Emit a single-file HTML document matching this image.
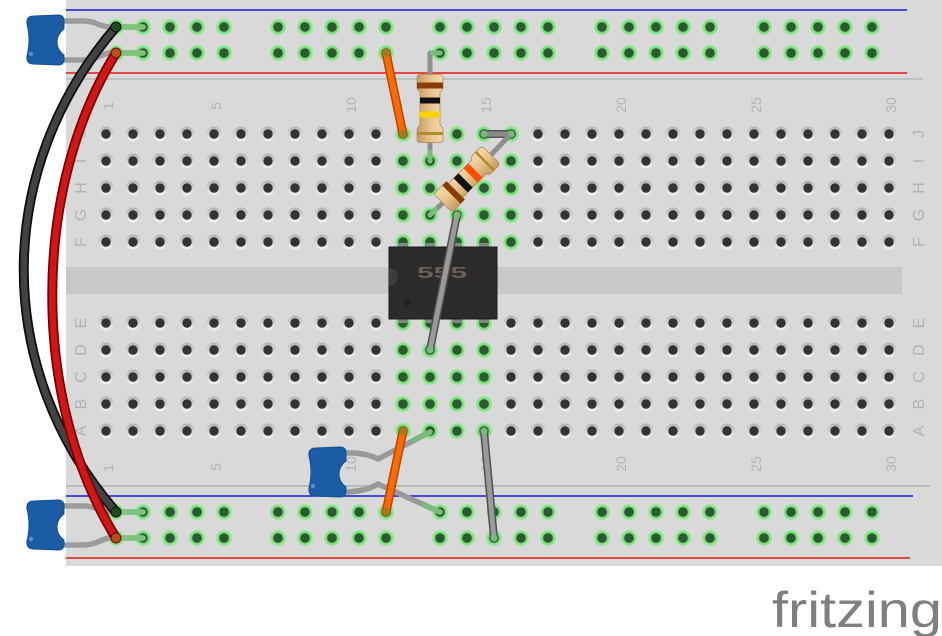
<!DOCTYPE html>
<html><head><meta charset="utf-8">
<style>
html,body{margin:0;padding:0;background:#fff;width:942px;height:636px;overflow:hidden;}
svg{display:block;}
</style></head>
<body>
<svg width="942" height="636" viewBox="0 0 942 636" xmlns="http://www.w3.org/2000/svg">
<defs>
  <linearGradient id="hg" x1="0" y1="0" x2="0" y2="1">
    <stop offset="0" stop-color="#b2b2b2"/>
    <stop offset="0.5" stop-color="#d2d2d2"/>
    <stop offset="1" stop-color="#f4f4f4"/>
  </linearGradient>
  <radialGradient id="gg">
    <stop offset="0.55" stop-color="#6fd66f"/>
    <stop offset="0.8" stop-color="#8fe08f"/>
    <stop offset="1" stop-color="#c2eac2"/>
  </radialGradient>
  <linearGradient id="rg" x1="0" y1="0" x2="0" y2="1">
    <stop offset="0" stop-color="#f2dbb0"/>
    <stop offset="0.45" stop-color="#e8c690"/>
    <stop offset="1" stop-color="#c69a62"/>
  </linearGradient>
  <pattern id="hp" x="92.5" y="120.5" width="27" height="27" patternUnits="userSpaceOnUse">
    <circle cx="13.5" cy="13.5" r="7.5" fill="url(#hg)"/>
    <circle cx="13.5" cy="13.5" r="4.7" fill="#333"/>
  </pattern>
  <pattern id="gp" x="92.5" y="120.5" width="27" height="27" patternUnits="userSpaceOnUse">
    <circle cx="13.5" cy="13.5" r="8.5" fill="url(#gg)"/>
    <circle cx="13.5" cy="13.5" r="4.8" fill="#2c5a30"/>
  </pattern>
  <pattern id="rt" x="102.5" y="14" width="27" height="26" patternUnits="userSpaceOnUse">
    <circle cx="13.5" cy="13" r="8.5" fill="url(#gg)"/>
    <circle cx="13.5" cy="13" r="4.8" fill="#2c5a30"/>
  </pattern>
  <pattern id="rb" x="102.5" y="499" width="27" height="26" patternUnits="userSpaceOnUse">
    <circle cx="13.5" cy="13" r="8.5" fill="url(#gg)"/>
    <circle cx="13.5" cy="13" r="4.8" fill="#2c5a30"/>
  </pattern>
  <g id="cap">
    <path d="M27,24 Q26,16 34,16 L58,15 Q64,15 64,21 L64,29 A15.6,15.6 0 0 0 64,55 L64,59 Q64,65 58,65 L34,64 Q26,64 27,56 Q31,40 27,24 Z" fill="#1b5ca6" stroke="#154f8e" stroke-width="1"/>
    <circle cx="31" cy="54" r="2.2" fill="#5a8fd0"/>
  </g>
  <g id="res">
    <path d="M-34,-10 Q-34,-13 -30,-13 L-22,-13 Q-18,-13 -17,-10 L17,-10 Q18,-13 22,-13 L30,-13 Q34,-13 34,-10 L34,10 Q34,13 30,13 L22,13 Q18,13 17,10 L-17,10 Q-18,13 -22,13 L-30,13 Q-34,13 -34,10 Z" fill="url(#rg)" stroke="#b48a55" stroke-width="0.8"/>
  </g>
</defs>

<!-- breadboard -->
<rect x="66" y="0" width="876" height="566" fill="#d9d9d9"/>
<rect x="66" y="267" width="836" height="27" fill="#c9c9c9"/>

<!-- rail lines -->
<line x1="66" y1="10" x2="907" y2="10" stroke="#1a1ad8" stroke-width="1.6"/>
<line x1="66" y1="73" x2="907" y2="73" stroke="#e61b1b" stroke-width="1.6"/>
<line x1="66" y1="79" x2="923" y2="79" stroke="#aab6ba" stroke-width="1.2"/>
<line x1="66" y1="486" x2="930" y2="486" stroke="#b0b0b0" stroke-width="1.5"/>
<line x1="66" y1="496" x2="913" y2="496" stroke="#1a1ad8" stroke-width="1.6"/>
<line x1="66" y1="558" x2="910" y2="558" stroke="#e61b1b" stroke-width="1.6"/>

<!-- labels -->
<g font-family="Liberation Sans, sans-serif" font-size="14" fill="#b3b3b3" text-anchor="middle">
  <text transform="translate(113,106) rotate(-90)">1</text>
  <text transform="translate(221,106) rotate(-90)">5</text>
  <text transform="translate(356,105) rotate(-90)">10</text>
  <text transform="translate(491,105) rotate(-90)">15</text>
  <text transform="translate(626,105) rotate(-90)">20</text>
  <text transform="translate(761,105) rotate(-90)">25</text>
  <text transform="translate(896,105) rotate(-90)">30</text>

  <text transform="translate(113,468) rotate(-90)">1</text>
  <text transform="translate(221,467) rotate(-90)">5</text>
  <text transform="translate(356,464) rotate(-90)">10</text>
  <text transform="translate(491,464) rotate(-90)">15</text>
  <text transform="translate(626,464) rotate(-90)">20</text>
  <text transform="translate(761,464) rotate(-90)">25</text>
  <text transform="translate(896,464) rotate(-90)">30</text>
</g>
<g font-family="Liberation Sans, sans-serif" font-size="16" fill="#b3b3b3" text-anchor="middle">
  <text transform="translate(86,134) rotate(-90)">J</text>
  <text transform="translate(86,161) rotate(-90)">I</text>
  <text transform="translate(86,188) rotate(-90)">H</text>
  <text transform="translate(86,215) rotate(-90)">G</text>
  <text transform="translate(86,242) rotate(-90)">F</text>
  <text transform="translate(86,323) rotate(-90)">E</text>
  <text transform="translate(86,350) rotate(-90)">D</text>
  <text transform="translate(86,377) rotate(-90)">C</text>
  <text transform="translate(86,404) rotate(-90)">B</text>
  <text transform="translate(86,431) rotate(-90)">A</text>

  <text transform="translate(924,134) rotate(-90)">J</text>
  <text transform="translate(924,161) rotate(-90)">I</text>
  <text transform="translate(924,188) rotate(-90)">H</text>
  <text transform="translate(924,215) rotate(-90)">G</text>
  <text transform="translate(924,242) rotate(-90)">F</text>
  <text transform="translate(924,323) rotate(-90)">E</text>
  <text transform="translate(924,350) rotate(-90)">D</text>
  <text transform="translate(924,377) rotate(-90)">C</text>
  <text transform="translate(924,404) rotate(-90)">B</text>
  <text transform="translate(924,431) rotate(-90)">A</text>
</g>

<!-- main holes -->
<rect x="92.5" y="120.5" width="810" height="135" fill="url(#hp)"/>
<rect x="92.5" y="309.5" width="810" height="135" fill="url(#hp)"/>
<!-- green connected holes -->
<rect x="389.5" y="120.5" width="135" height="135" fill="url(#gp)"/>
<rect x="389.5" y="309.5" width="108" height="135" fill="url(#gp)"/>

<!-- rail holes -->
<rect x="102.5" y="14" width="135" height="52" fill="url(#rt)"/>
<rect x="264.5" y="14" width="135" height="52" fill="url(#rt)"/>
<rect x="426.5" y="14" width="135" height="52" fill="url(#rt)"/>
<rect x="588.5" y="14" width="135" height="52" fill="url(#rt)"/>
<rect x="750.5" y="14" width="135" height="52" fill="url(#rt)"/>
<rect x="102.5" y="499" width="135" height="52" fill="url(#rb)"/>
<rect x="264.5" y="499" width="135" height="52" fill="url(#rb)"/>
<rect x="426.5" y="499" width="135" height="52" fill="url(#rb)"/>
<rect x="588.5" y="499" width="135" height="52" fill="url(#rb)"/>
<rect x="750.5" y="499" width="135" height="52" fill="url(#rb)"/>

<!-- 555 chip -->
<g fill="#7d8a7d">
  <rect x="398" y="243" width="10" height="5"/>
  <rect x="425" y="243" width="10" height="5"/>
  <rect x="452" y="243" width="10" height="5"/>
  <rect x="479" y="243" width="10" height="5"/>
  <rect x="398" y="318" width="10" height="5"/>
  <rect x="425" y="318" width="10" height="5"/>
  <rect x="452" y="318" width="10" height="5"/>
  <rect x="479" y="318" width="10" height="5"/>
</g>
<rect x="389" y="247" width="108" height="72" fill="#2b2b2b" stroke="#1c1c1c" stroke-width="1"/>
<path d="M389,268 A9,9 0 0 1 389,286 Z" fill="#3c3c3c"/>
<circle cx="407" cy="302" r="4" fill="#222"/>
<text x="417" y="278" font-family="Liberation Sans, sans-serif" font-weight="bold" font-size="16" fill="#6e6055" textLength="50" lengthAdjust="spacingAndGlyphs">555</text>

<!-- orange top wire -->
<line x1="386" y1="53" x2="403" y2="134" stroke="#b44600" stroke-width="9" stroke-linecap="round"/>
<line x1="386" y1="53" x2="403" y2="134" stroke="#ff6a00" stroke-width="6" stroke-linecap="round"/>
<circle cx="386" cy="53" r="4" fill="#a8781c"/>
<circle cx="403" cy="134" r="4" fill="#a8781c"/>

<!-- R1 leads and body -->
<path d="M440,53 L430,53 L430,80" fill="none" stroke="#8e8e8e" stroke-width="5" stroke-linecap="round" stroke-linejoin="round"/>
<path d="M440,53 L432,53" fill="none" stroke="#7cba7c" stroke-width="5" stroke-linecap="round"/>
<path d="M430,138 L430,161" fill="none" stroke="#8e8e8e" stroke-width="5" stroke-linecap="round"/>
<path d="M430,152 L430,161" fill="none" stroke="#7cba7c" stroke-width="5" stroke-linecap="round"/>
<g transform="translate(430,108.5) rotate(90)">
  <use href="#res"/>
  <rect x="-26" y="-13" width="6" height="26" fill="#8a3b0a"/>
  <rect x="-11" y="-10" width="6" height="20" fill="#111"/>
  <rect x="3" y="-10" width="6" height="20" fill="#ffd200"/>
  <rect x="23.5" y="-13" width="3" height="26" fill="#b08d2a"/>
</g>

<!-- short gray wire J row -->
<line x1="484" y1="134" x2="511" y2="134" stroke="#555" stroke-width="8" stroke-linecap="round"/>
<line x1="484" y1="134" x2="511" y2="134" stroke="#8a8a8a" stroke-width="5" stroke-linecap="round"/>
<circle cx="484" cy="134" r="3.5" fill="#7cba7c"/>
<circle cx="511" cy="134" r="3.5" fill="#7cba7c"/>

<!-- R2 leads and body -->
<path d="M430,215 L445,201" fill="none" stroke="#8e8e8e" stroke-width="5" stroke-linecap="round"/>
<path d="M430,215 L436,209" fill="none" stroke="#7cba7c" stroke-width="5" stroke-linecap="round"/>
<path d="M489,157 L508,137" fill="none" stroke="#8e8e8e" stroke-width="5" stroke-linecap="round"/>
<g transform="translate(467,179) rotate(-45)">
  <use href="#res"/>
  <rect x="-22" y="-13" width="6" height="26" fill="#8a3b0a"/>
  <rect x="-9" y="-10" width="7" height="20" fill="#111"/>
  <rect x="5" y="-10" width="7" height="20" fill="#ff4e00"/>
  <rect x="24" y="-13" width="2.5" height="26" fill="#b08d2a"/>
</g>

<!-- long gray wire over chip -->
<line x1="457" y1="215" x2="430" y2="350" stroke="#505050" stroke-width="8" stroke-linecap="round"/>
<line x1="457" y1="215" x2="430" y2="350" stroke="#9a9a9a" stroke-width="5" stroke-linecap="round"/>
<circle cx="457" cy="215" r="3.5" fill="#7cba7c"/>
<circle cx="430" cy="350" r="3.5" fill="#7cba7c"/>

<!-- bottom gray wire -->
<line x1="484" y1="431" x2="494" y2="538" stroke="#505050" stroke-width="8" stroke-linecap="round"/>
<line x1="484" y1="431" x2="494" y2="538" stroke="#9a9a9a" stroke-width="5" stroke-linecap="round"/>
<circle cx="484" cy="431" r="3.5" fill="#7cba7c"/>
<circle cx="494" cy="538" r="3.5" fill="#7cba7c"/>

<!-- middle capacitor leads -->
<path d="M342,453 Q365,452 378,459 L430,432" fill="none" stroke="#999" stroke-width="5.5" stroke-linecap="round" stroke-linejoin="round"/>
<path d="M414,440 L430,432" fill="none" stroke="#7cba7c" stroke-width="5.5" stroke-linecap="round"/>
<path d="M342,492 Q365,492 378,484 L440,512" fill="none" stroke="#999" stroke-width="5.5" stroke-linecap="round" stroke-linejoin="round"/>
<path d="M424,505 L440,512" fill="none" stroke="#7cba7c" stroke-width="5.5" stroke-linecap="round"/>
<use href="#cap" transform="translate(282,432)"/>

<!-- orange bottom wire -->
<line x1="403" y1="431" x2="386" y2="512" stroke="#b44600" stroke-width="9" stroke-linecap="round"/>
<line x1="403" y1="431" x2="386" y2="512" stroke="#ff6a00" stroke-width="6" stroke-linecap="round"/>
<circle cx="403" cy="431" r="4" fill="#a8781c"/>
<circle cx="386" cy="512" r="4" fill="#a8781c"/>

<!-- left capacitors leads -->
<g fill="none" stroke-linecap="round" stroke-linejoin="round" stroke-width="5.5">
  <path d="M60,21 L83,21 Q92,21 100,25 L108,27 L143,27" stroke="#9c9c9c"/>
  <path d="M60,60 L83,60 Q92,60 100,56 L108,53 L143,53" stroke="#9c9c9c"/>
  <path d="M116,27 L143,27" stroke="#7cc47c"/>
  <path d="M116,53 L143,53" stroke="#7cc47c"/>
  <g transform="translate(0,485)">
    <path d="M60,21 L83,21 Q92,21 100,25 L108,27 L143,27" stroke="#9c9c9c"/>
    <path d="M60,60 L83,60 Q92,60 100,56 L108,53 L143,53" stroke="#9c9c9c"/>
    <path d="M116,27 L143,27" stroke="#7cc47c"/>
    <path d="M116,53 L143,53" stroke="#7cc47c"/>
  </g>
</g>
<use href="#cap"/>
<use href="#cap" transform="translate(0,485)"/>

<!-- black and red power wires -->
<path d="M116,27 C-7,170 -7,370 116,512" fill="none" stroke="#0c0c0c" stroke-width="10" stroke-linecap="round"/>
<path d="M116,27 C-7,170 -7,370 116,512" fill="none" stroke="#424242" stroke-width="6.5" stroke-linecap="round"/>
<circle cx="116" cy="27" r="5" fill="#1f4a22" stroke="#0c0c0c" stroke-width="1"/>
<circle cx="116" cy="512" r="5" fill="#1f4a22" stroke="#0c0c0c" stroke-width="1"/>
<path d="M116,53 C31,190 31,400 116,538" fill="none" stroke="#7a0000" stroke-width="10" stroke-linecap="round"/>
<path d="M116,53 C31,190 31,400 116,538" fill="none" stroke="#d01616" stroke-width="6.5" stroke-linecap="round"/>
<circle cx="116" cy="53" r="5" fill="#b0521a" stroke="#7a0000" stroke-width="1"/>
<circle cx="116" cy="538" r="5" fill="#b0521a" stroke="#7a0000" stroke-width="1"/>

<!-- fritzing logo -->
<text x="772" y="627" font-family="Liberation Sans, sans-serif" font-size="50" fill="#7f7f7f" textLength="170" lengthAdjust="spacingAndGlyphs">fritzing</text>
</svg>
</body></html>
